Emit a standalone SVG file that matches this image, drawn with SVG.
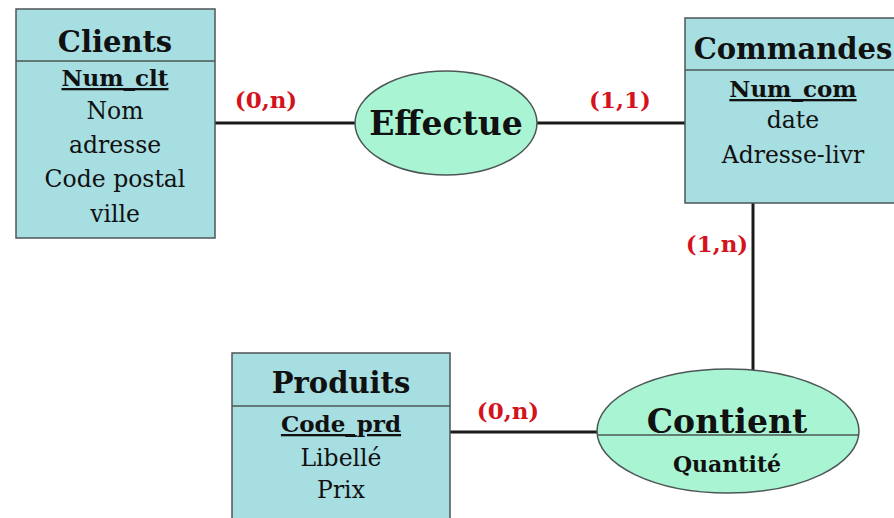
<svg xmlns="http://www.w3.org/2000/svg" width="894" height="518" viewBox="0 0 894 518">
<style>
.box{fill:#a6dee2;stroke:#4d5656;stroke-width:1.5}
.rel{fill:#a9f5d3;stroke:#4d5656;stroke-width:1.5}
.sep{stroke:#4d5656;stroke-width:1.5}
.conn{stroke:#1a1a1a;stroke-width:3;fill:none}
text{font-family:"DejaVu Serif","Liberation Serif",serif;fill:#111;text-anchor:middle}
.title{font-size:29px;font-weight:bold}
.rtitle{font-size:33px;font-weight:bold}
.key{font-size:23px;font-weight:bold;text-decoration:underline}
.attr{font-size:23.5px}
.rattr{font-size:22px;font-weight:bold}
.card{font-size:23px;font-weight:bold;fill:#d4141c}
</style>
<rect width="894" height="518" fill="#ffffff"/>
<g id="connectors">
<line class="conn" x1="215" y1="123" x2="356" y2="123"/>
<line class="conn" x1="536" y1="123" x2="685" y2="123"/>
<line class="conn" x1="753" y1="203" x2="753" y2="370"/>
<line class="conn" x1="450" y1="432" x2="598" y2="432"/>
<text class="card" x="266" y="108">(0,n)</text>
<text class="card" x="620" y="108">(1,1)</text>
<text class="card" x="717" y="252">(1,n)</text>
<text class="card" x="508" y="419">(0,n)</text>
</g>
<g id="clients">
<rect class="box" x="16" y="9" width="199" height="229"/>
<line class="sep" x1="16" y1="61" x2="215" y2="61"/>
<text class="title" x="115" y="52">Clients</text>
<text class="key" x="115" y="86">Num_clt</text>
<text class="attr" x="115" y="119">Nom</text>
<text class="attr" x="115" y="153">adresse</text>
<text class="attr" x="115" y="187">Code postal</text>
<text class="attr" x="115" y="222">ville</text>
</g>
<g id="effectue">
<ellipse class="rel" cx="446" cy="123" rx="91" ry="52"/>
<text class="rtitle" x="446" y="135">Effectue</text>
</g>
<g id="commandes">
<rect class="box" x="685" y="18" width="220" height="185"/>
<line class="sep" x1="685" y1="70" x2="905" y2="70"/>
<text class="title" x="793" y="59">Commandes</text>
<text class="key" x="793" y="97">Num_com</text>
<text class="attr" x="793" y="128">date</text>
<text class="attr" x="793" y="163">Adresse-livr</text>
</g>
<g id="contient">
<ellipse class="rel" cx="728" cy="431" rx="131" ry="62"/>
<line class="sep" x1="597" y1="435" x2="859" y2="435"/>
<text class="rtitle" x="727" y="433">Contient</text>
<text class="rattr" x="727" y="472">Quantité</text>
</g>
<g id="produits">
<rect class="box" x="232" y="353" width="218" height="175"/>
<line class="sep" x1="232" y1="406" x2="450" y2="406"/>
<text class="title" x="341" y="393">Produits</text>
<text class="key" x="341" y="432">Code_prd</text>
<text class="attr" x="341" y="466">Libellé</text>
<text class="attr" x="341" y="498">Prix</text>
</g>
</svg>
